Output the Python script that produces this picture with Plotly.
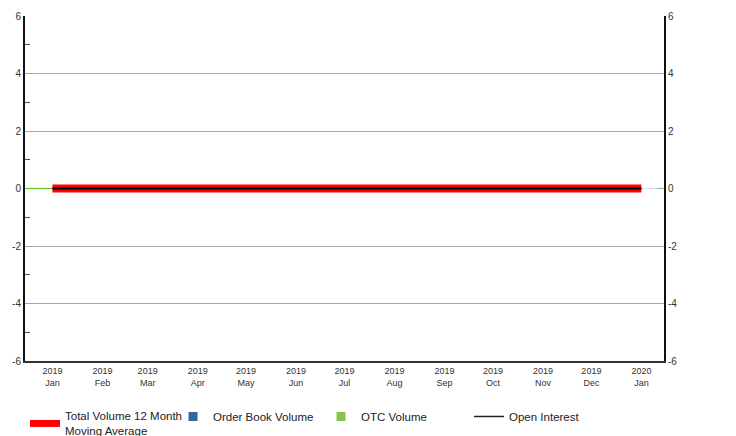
import plotly.graph_objects as go

months = ["2019-01-01", "2019-02-01", "2019-03-01", "2019-04-01", "2019-05-01", "2019-06-01",
          "2019-07-01", "2019-08-01", "2019-09-01", "2019-10-01", "2019-11-01", "2019-12-01",
          "2020-01-01"]
tick_labels = ["2019<br>Jan", "2019<br>Feb", "2019<br>Mar", "2019<br>Apr", "2019<br>May",
               "2019<br>Jun", "2019<br>Jul", "2019<br>Aug", "2019<br>Sep", "2019<br>Oct",
               "2019<br>Nov", "2019<br>Dec", "2020<br>Jan"]
y_ticks = [-6, -4, -2, 0, 2, 4, 6]
y_tick_labels = ["-6", "-4", "-2", "0", "2", "4", "6"]
moving_avg = [0] * 13
order_book = [0] * 13
otc_volume = [0] * 13
open_interest = [0] * 13
otc_lead_dates = ["2018-12-15", "2019-01-01"]
otc_lead_vals = [0, 0]
x_range = ["2018-12-15", "2020-01-15"]

RED = "#FF0000"
BLUE = "#336699"
GREEN = "#8BC34A"

fig = go.Figure()
# data marks
fig.add_trace(go.Bar(x=months, y=order_book, marker_color=BLUE, showlegend=False))
fig.add_trace(go.Bar(x=months, y=otc_volume, marker_color=GREEN, showlegend=False))
fig.add_trace(go.Scatter(x=otc_lead_dates, y=otc_lead_vals, mode="lines",
                         line=dict(color="#6BBF2A", width=1.2), showlegend=False,
                         hoverinfo="skip"))
fig.add_trace(go.Scatter(x=months, y=moving_avg, mode="lines", showlegend=False,
                         line=dict(color=RED, width=8)))
fig.add_trace(go.Scatter(x=months, y=open_interest, mode="lines", showlegend=False,
                         line=dict(color="#000000", width=2)))
fig.add_trace(go.Scatter(x=months, y=open_interest, mode="lines", yaxis="y2",
                         line=dict(color="rgba(0,0,0,0)", width=0), showlegend=False,
                         hoverinfo="skip"))

# legend entries
fig.add_trace(go.Scatter(x=[None], y=[None], mode="lines",
                         name="Total Volume 12 Month<br>Moving Average",
                         line=dict(color=RED, width=7)))
fig.add_trace(go.Scatter(x=[None], y=[None], mode="markers", name="Order Book Volume",
                         marker=dict(symbol="square", size=9, color=BLUE)))
fig.add_trace(go.Scatter(x=[None], y=[None], mode="markers", name="OTC Volume",
                         marker=dict(symbol="square", size=9, color=GREEN)))
fig.add_trace(go.Scatter(x=[None], y=[None], mode="lines", name="Open Interest",
                         line=dict(color="#222222", width=1.5)))

fig.update_layout(
    width=736, height=436,
    margin=dict(l=25, r=72, t=16, b=75, autoexpand=False),
    paper_bgcolor="white", plot_bgcolor="white",
    font=dict(family="Liberation Sans, Arial, sans-serif", color="#333333"),
    showlegend=True,
    legend=dict(orientation="h", xref="container", yref="container",
                x=0.034, xanchor="left", y=0.078, yanchor="top",
                font=dict(size=11.5, color="#222222"), entrywidth=103,
                entrywidthmode="pixels", traceorder="normal", itemwidth=30),
    xaxis=dict(type="date", range=x_range, tickvals=months, ticktext=tick_labels,
               showgrid=False, showline=True, linecolor="#333333", linewidth=2,
               ticks="", tickfont=dict(size=9, color="#333333"), zeroline=False,
               automargin=False),
    yaxis=dict(range=[-6, 6], tickvals=y_ticks, ticktext=y_tick_labels, showgrid=True,
               gridcolor="#A6A6A6", gridwidth=1, zeroline=False, showline=True,
               linecolor="#111111", linewidth=2, ticks="", automargin=False,
               tickfont=dict(size=10, color="#333333"),
               minor=dict(tickvals=[-5, -3, -1, 1, 3, 5], ticks="inside", ticklen=5,
                          tickcolor="#555555", showgrid=False)),
    yaxis2=dict(range=[-6, 6], tickvals=y_ticks, ticktext=y_tick_labels, overlaying="y",
                side="right", showgrid=False, zeroline=False, showline=True,
                linecolor="#111111", linewidth=2, ticks="", automargin=False,
                tickfont=dict(size=10, color="#333333")),
    bargap=0.3,
)

fig.write_html("out.html", config={"displayModeBar": False},
               post_script="document.body.style.margin='0';document.body.style.overflow='hidden';")
